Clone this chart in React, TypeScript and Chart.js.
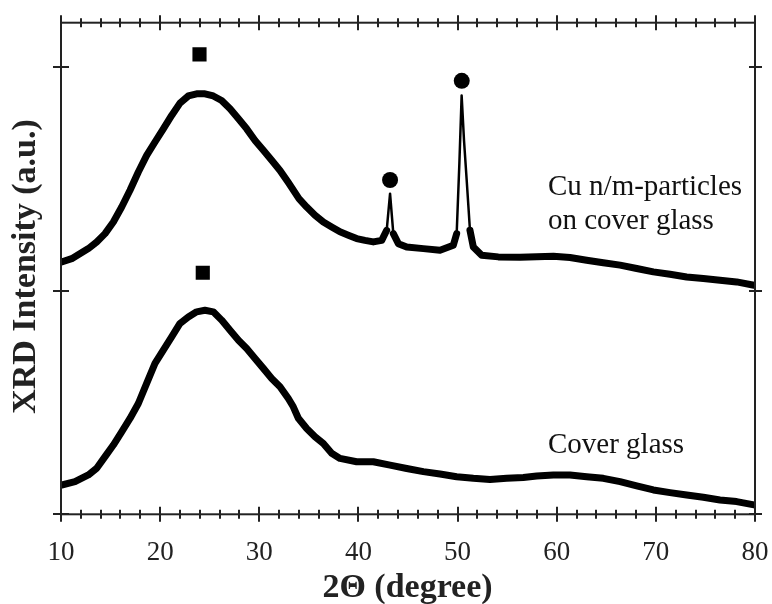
import React, { useEffect, useRef } from "react";
import { Chart, registerables } from "chart.js";

Chart.register(...registerables);

// ---- Data (2θ in degrees, intensity in arbitrary units) ----
const cuAngles = [
  10.07, 11.08, 12.76, 13.6, 14.44, 15.28, 16.12, 16.96, 17.8, 18.64, 19.48, 20.32,
  21.16, 22.0, 22.84, 23.68, 24.52, 25.36, 26.2, 27.05, 27.9, 28.73, 29.57, 30.41,
  31.25, 32.09, 32.93, 34.0, 34.78, 35.62, 36.46, 37.3, 38.14, 38.98, 39.82, 40.66,
  41.5, 42.35, 42.85, 43.19, 43.52, 44.03, 44.87, 46.55, 48.23, 49.57, 49.91, 50.18,
  50.41, 50.65, 50.92, 51.25, 51.59, 52.43, 54.11, 56.3, 57.98, 59.66, 61.34, 63.02,
  64.7, 66.39, 68.07, 69.75, 71.43, 73.11, 74.79, 76.47, 78.15, 79.9,
];
const cuIntensity = [
  1.129, 1.144, 1.189, 1.219, 1.256, 1.308, 1.375, 1.45, 1.532, 1.606, 1.666, 1.725,
  1.785, 1.84, 1.872, 1.882, 1.882, 1.872, 1.852, 1.815, 1.77, 1.725, 1.673, 1.629,
  1.584, 1.539, 1.485, 1.413, 1.375, 1.338, 1.308, 1.286, 1.264, 1.249, 1.234, 1.226,
  1.219, 1.226, 1.271, 1.435, 1.256, 1.211, 1.196, 1.189, 1.182, 1.204, 1.256, 1.569,
  1.874, 1.673, 1.495, 1.271, 1.196, 1.159, 1.152, 1.15, 1.153, 1.155, 1.149, 1.137,
  1.126, 1.115, 1.1, 1.085, 1.074, 1.062, 1.055, 1.047, 1.04, 1.025,
];

const glassAngles = [
  10.07, 11.41, 12.76, 13.6, 14.44, 15.28, 16.12, 16.96, 17.8, 18.64, 19.48, 20.32,
  21.16, 22.0, 22.84, 23.68, 24.52, 25.36, 26.2, 27.05, 27.9, 28.73, 29.57, 30.41,
  31.25, 32.09, 32.93, 33.43, 33.94, 34.78, 35.62, 36.46, 37.3, 38.14, 39.82, 41.5,
  43.19, 44.87, 46.55, 48.23, 49.91, 51.59, 53.27, 54.95, 56.63, 57.98, 59.66, 61.34,
  63.02, 64.7, 66.39, 68.07, 69.75, 71.43, 73.11, 74.79, 76.47, 78.15, 79.9,
];
const glassIntensity = [
  0.131, 0.146, 0.176, 0.206, 0.258, 0.31, 0.369, 0.429, 0.496, 0.586, 0.675, 0.735,
  0.794, 0.854, 0.883, 0.906, 0.913, 0.906, 0.869, 0.824, 0.779, 0.742, 0.697, 0.653,
  0.608, 0.571, 0.518, 0.481, 0.43, 0.384, 0.347, 0.317, 0.273, 0.25, 0.235, 0.235,
  0.22, 0.205, 0.191, 0.18, 0.168, 0.161, 0.156, 0.161, 0.165, 0.171, 0.176, 0.176,
  0.168, 0.161, 0.146, 0.127, 0.109, 0.097, 0.086, 0.076, 0.064, 0.057, 0.042,
];

// Peak markers (■ amorphous hump, ● Cu reflections)
const squareMarkerAngles = [23.97, 24.3];
const squareMarkerValues = [2.058, 1.081];
const circleMarkerAngles = [43.19, 50.42];
const circleMarkerValues = [1.496, 1.94];

// Axes
const xMin = 10;
const xMax = 80;
const xMajorTicks = [10, 20, 30, 40, 50, 60, 70, 80];
const xTickLabels = ["10", "20", "30", "40", "50", "60", "70", "80"];
const xMinorStep = 2;
const yMin = 0;
const yMax = 2.2;
const yMajorTicks = [0, 1, 2];

const xAxisTitle = "2\u0398 (degree)";
const yAxisTitle = "XRD Intensity (a.u.)";

// In-plot labels: text, anchor angle, anchor intensity (baseline)
const cuLabelLines = ["Cu n/m-particles", "on cover glass"];
const cuLabelAngle = 59.12;
const cuLabelValues = [1.427, 1.278];
const glassLabel = "Cover glass";
const glassLabelAngle = 59.12;
const glassLabelValue = 0.273;

const SERIF = '"Liberation Serif", "Times New Roman", Times, serif';

const framePlugin = {
  id: "framePlugin",
  afterDraw(chart: any) {
    const { ctx, chartArea: ca } = chart;
    const x = chart.scales.x;
    const y = chart.scales.y;
    ctx.save();
    ctx.strokeStyle = "#222";
    ctx.lineWidth = 2;
    ctx.lineCap = "butt";
    ctx.strokeRect(ca.left, ca.top, ca.right - ca.left, ca.bottom - ca.top);

    // x ticks (top and bottom, crossing the axis)
    ctx.beginPath();
    for (let v = xMin; v <= xMax + 1e-9; v += xMinorStep) {
      const px = Math.round(x.getPixelForValue(v));
      const major = xMajorTicks.indexOf(v) >= 0;
      const len = major ? 7.5 : 4.5;
      ctx.moveTo(px, ca.bottom - len);
      ctx.lineTo(px, ca.bottom + len);
      ctx.moveTo(px, ca.top - len);
      ctx.lineTo(px, ca.top + len);
    }
    // y ticks (left and right)
    for (const v of yMajorTicks) {
      const py = Math.round(y.getPixelForValue(v));
      ctx.moveTo(ca.left - 8, py);
      ctx.lineTo(ca.left + 8, py);
      ctx.moveTo(ca.right - 6, py);
      ctx.lineTo(ca.right + 7, py);
    }
    ctx.stroke();

    // tick labels
    ctx.fillStyle = "#222";
    ctx.font = `27px ${SERIF}`;
    ctx.textAlign = "center";
    ctx.textBaseline = "alphabetic";
    xMajorTicks.forEach((v, i) => {
      ctx.fillText(xTickLabels[i], x.getPixelForValue(v), ca.bottom + 45.2);
    });

    // axis titles
    ctx.font = `bold 34px ${SERIF}`;
    ctx.fillText(xAxisTitle, (ca.left + ca.right) / 2 - 0.5, ca.bottom + 82.4);
    ctx.save();
    ctx.translate(ca.left - 26, (ca.top + ca.bottom) / 2 - 2);
    ctx.rotate(-Math.PI / 2);
    ctx.fillText(yAxisTitle, 0, 0);
    ctx.restore();

    // in-plot labels
    ctx.fillStyle = "#111";
    ctx.font = `29px ${SERIF}`;
    ctx.textAlign = "left";
    cuLabelLines.forEach((t, i) => {
      ctx.fillText(t, x.getPixelForValue(cuLabelAngle), y.getPixelForValue(cuLabelValues[i]));
    });
    ctx.fillText(glassLabel, x.getPixelForValue(glassLabelAngle), y.getPixelForValue(glassLabelValue));
    ctx.restore();
  },
};

function toPoints(xs: number[], ys: number[]) {
  return xs.map((v, i) => ({ x: v, y: ys[i] }));
}

const segmentWidth = (c: any) => {
  const dx = Math.abs(c.p1.parsed.x - c.p0.parsed.x) || 1e-6;
  const dy = Math.abs(c.p1.parsed.y - c.p0.parsed.y);
  return dy / dx > 0.25 ? 2.5 : 7;
};

export default function App() {
  const canvasRef = useRef<HTMLCanvasElement | null>(null);

  useEffect(() => {
    if (!canvasRef.current) return;
    const chart = new Chart(canvasRef.current, {
      type: "scatter",
      data: {
        datasets: [
          {
            label: "Cu n/m-particles on cover glass",
            data: toPoints(cuAngles, cuIntensity),
            showLine: true,
            borderColor: "#000",
            borderWidth: 7,
            borderJoinStyle: "round",
            borderCapStyle: "round",
            pointRadius: 0,
            tension: 0,
            segment: { borderWidth: segmentWidth },
          } as any,
          {
            label: "Cover glass",
            data: toPoints(glassAngles, glassIntensity),
            showLine: true,
            borderColor: "#000",
            borderWidth: 7,
            borderJoinStyle: "round",
            borderCapStyle: "round",
            pointRadius: 0,
            tension: 0,
          } as any,
          {
            label: "squares",
            data: toPoints(squareMarkerAngles, squareMarkerValues),
            showLine: false,
            pointStyle: "rect",
            pointRadius: 10,
            pointBackgroundColor: "#000",
            pointBorderWidth: 0,
          } as any,
          {
            label: "circles",
            data: toPoints(circleMarkerAngles, circleMarkerValues),
            showLine: false,
            pointStyle: "circle",
            pointRadius: 8,
            pointBackgroundColor: "#000",
            pointBorderWidth: 0,
          } as any,
        ],
      },
      options: {
        responsive: false,
        animation: false,
        devicePixelRatio: 1,
        layout: { padding: { left: 61, top: 22.7, right: 17, bottom: 89.7 } },
        scales: {
          x: { type: "linear", min: xMin, max: xMax, display: false },
          y: { type: "linear", min: yMin, max: yMax, display: false },
        },
        plugins: {
          legend: { display: false },
          tooltip: { enabled: false },
        },
      },
      plugins: [framePlugin],
    });
    return () => chart.destroy();
  }, []);

  return (
    <div style={{ position: "absolute", left: 0, top: 0, width: 772, height: 604, overflow: "hidden" }}>
      <canvas ref={canvasRef} width={772} height={604} style={{ display: "block" }} />
    </div>
  );
}
